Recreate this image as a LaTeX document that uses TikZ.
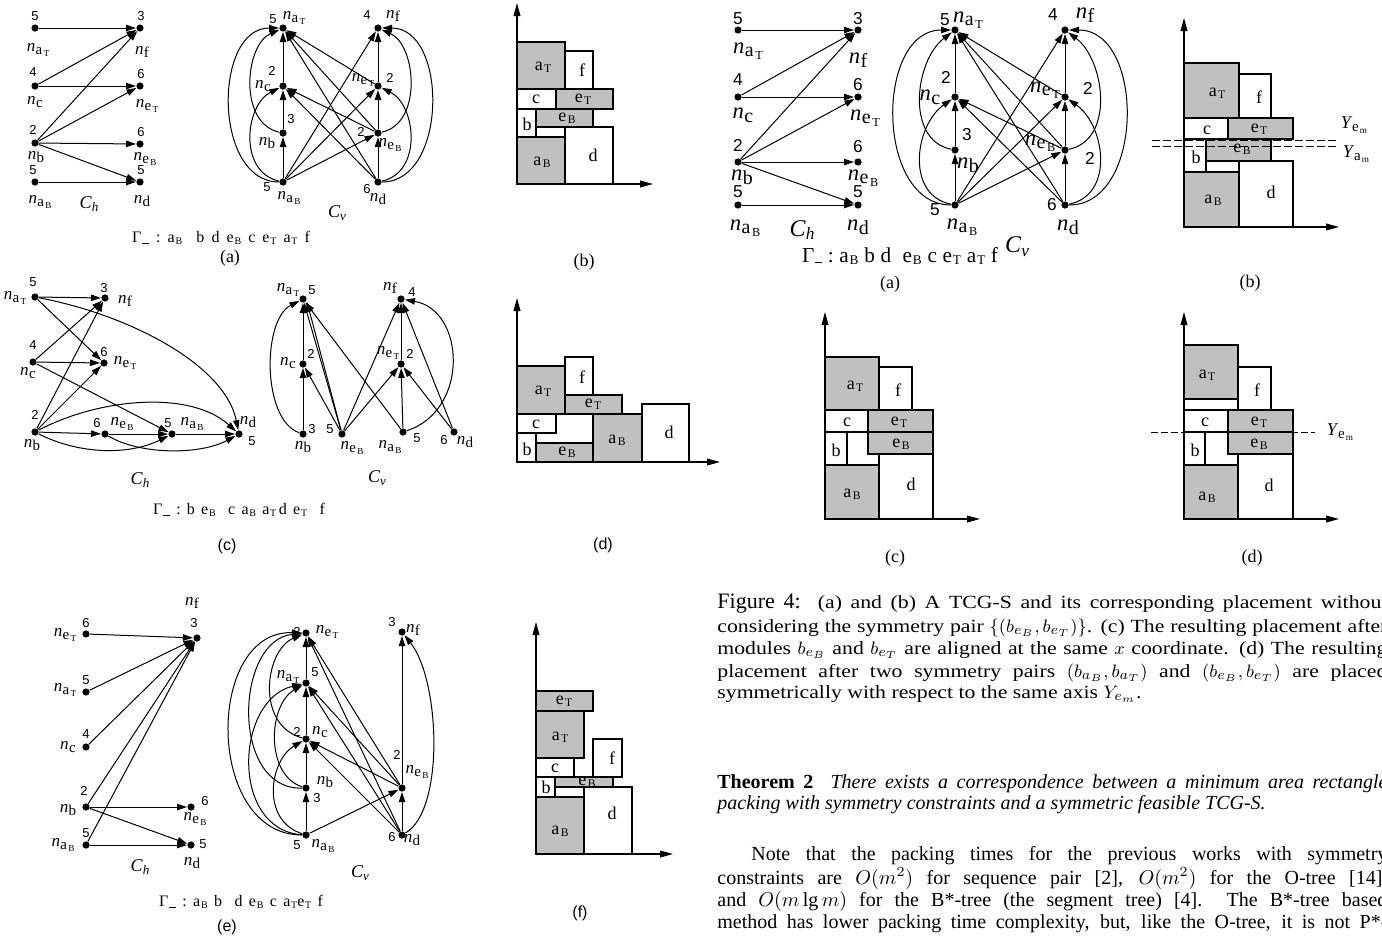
\documentclass[tikz,border=0pt]{standalone}
\usepackage{fontspec}
\setmainfont{Liberation Serif}
\setsansfont{Liberation Sans}
\newfontfamily\capfont[FakeStretch=1.17]{Liberation Serif}
\usetikzlibrary{arrows.meta}
\definecolor{boxgray}{RGB}{192,192,192}
\newcommand\LS{1}
\newcommand\nS[1]{\textit{n}\kern0.2pt\raisebox{-0.35ex}{\fontsize{\fpeval{7.5*\LS}}{\fpeval{8*\LS}}\selectfont #1}}
\newcommand\nA[2]{\textit{n}\kern0.2pt\raisebox{-0.35ex}{\fontsize{\fpeval{7.5*\LS}}{\fpeval{8*\LS}}\selectfont #1\kern0.08em\raisebox{-0.3ex}{\fontsize{\fpeval{4.6*\LS}}{\fpeval{5*\LS}}\selectfont #2}}}
\newcommand\yA[2]{\textit{Y}\kern-0.2pt\raisebox{-0.35ex}{\fontsize{7.5}{8}\selectfont #1\kern0.08em\raisebox{-0.3ex}{\fontsize{4.6}{5}\selectfont #2}}}
\newcommand\bS[2]{#1\kern0.7pt\raisebox{-0.8pt}{\fontsize{5.8}{6}\selectfont #2}}
\newcommand\gS[2]{#1\kern0.4pt\raisebox{-0.25ex}{\fontsize{\fpeval{5*\LS}}{\fpeval{6*\LS}}\selectfont #2}}
\newcommand\Gm{Γ\kern0.3pt\raisebox{-0.4pt}{\rule{3.6pt}{0.45pt}}}
\newcommand\Cs[1]{\textit{C}\raisebox{-0.35ex}{\fontsize{\fpeval{6.5*\LS}}{\fpeval{7*\LS}}\selectfont\textit{#1}}}
\newcommand\vtx[6]{\node[dot] (#1) at (#2) {}; \node[num] (#1-w) at (#4) {#3}; \node[lab] (#1-n) at (#6) {#5};}
\newcommand\pk[6]{\draw[#1] (#2) rectangle (#3); \node[blab] (#4) at (#5) {#6};}
\newcommand\axes[4]{\coordinate (#1-o) at (#2); \coordinate (#1-y) at (#3); \coordinate (#1-x) at (#4); \draw[axisline] (#1-o) -- (#1-y); \draw[axisline] (#1-o) -- (#1-x);}
\tikzset{
 dot/.style={circle,fill=black,inner sep=0pt,minimum size=3.6pt},
 ar/.style={line width=0.5pt,-{Triangle[length=5pt,width=3.2pt]}},
 num/.style={inner sep=0pt,font=\sffamily\fontsize{\fpeval{6.5*\LS}}{\fpeval{7*\LS}}\selectfont},
 lab/.style={inner sep=0pt,font=\fontsize{\fpeval{8.5*\LS}}{\fpeval{9*\LS}}\selectfont},
 wbox/.style={draw=black,line width=0.6pt,fill=white},
 gbox/.style={draw=black,line width=0.6pt,fill=boxgray},
 blab/.style={inner sep=0pt,font=\fontsize{9}{10}\selectfont},
 axisline/.style={line width=0.6pt,-{Triangle[length=6.5pt,width=3.4pt]}},
 gam/.style={inner sep=0pt,font=\fontsize{\fpeval{8*\LS}}{\fpeval{9*\LS}}\selectfont},
 cl/.style={inner sep=0pt,font=\fontsize{\fpeval{9*\LS}}{\fpeval{10*\LS}}\selectfont},
 sublab/.style={inner sep=0pt,font=\fontsize{9}{10}\selectfont},
 sublabsf/.style={inner sep=0pt,font=\sffamily\fontsize{8}{9}\selectfont},
 txt/.style={inner sep=0pt,anchor=base west},
 symline/.style={line width=0.5pt,dash pattern=on 4pt off 1.5pt},
}
\begin{document}
\begin{tikzpicture}[x=0.5pt,y=-0.5pt]
\fill[white] (0,0) rectangle (1382,938);
\useasboundingbox (0,0) rectangle (1382,938);

% ================= Panel left (a) : C_h =================
\vtx{Ah-aT}{35,28}{5}{35,16}{\nA{a}{T}}{38,50}
\vtx{Ah-f}{140,28}{3}{141,16}{\nS{f}}{142,52}
\vtx{Ah-c}{35,86}{4}{33,72}{\nS{c}}{35,102}
\vtx{Ah-eT}{140,86}{6}{141,74}{\nA{e}{T}}{147,106}
\vtx{Ah-b}{35,143}{2}{33,130}{\nS{b}}{36,157}
\vtx{Ah-eB}{140,144}{6}{141,132}{\nA{e}{B}}{145,159}
\vtx{Ah-aB}{35,182}{5}{33,170}{\nA{a}{B}}{40,202}
\vtx{Ah-d}{140,182}{5}{141,170}{\nS{d}}{142,201}
\foreach \s/\t in {aT/f,c/f,c/eT,b/f,b/eT,b/eB,b/d,aB/d} \draw[ar] (Ah-\s) -- (Ah-\t);
\node[cl] (A-Ch) at (89,204) {\Cs{h}};

% ================= Panel left (a) : C_v =================
\vtx{Av-aT}{283,28}{5}{273,19}{\nA{a}{T}}{294,18}
\vtx{Av-f}{378,28}{4}{367,15}{\nS{f}}{393,16}
\vtx{Av-c}{283,86}{2}{272,71}{\nS{c}}{263,86}
\vtx{Av-eT}{378,86}{2}{390,78}{\nA{e}{T}}{363,80}
\vtx{Av-b}{283,133}{3}{291,119}{\nS{b}}{267,143}
\vtx{Av-eB}{378,133}{2}{361,132}{\nA{e}{B}}{390,145}
\vtx{Av-aB}{283,182}{5}{267,187}{\nA{a}{B}}{289,198}
\vtx{Av-d}{378,182}{6}{367,189}{\nS{d}}{378,199}
\foreach \s/\t in {aB/b,b/c,c/aT,d/eB,eB/eT,eT/f,eT/aT,eB/aT,d/aT,eB/c,d/c,aB/f,aB/eT,aB/eB} \draw[ar] (Av-\s) -- (Av-\t);
\draw[ar] (Av-aB) .. controls (213,182) and (213,28) .. (Av-aT);
\draw[ar] (Av-b) .. controls (238,123) and (245,45) .. (Av-aT);
\draw[ar] (Av-aB) .. controls (238,172) and (245,105) .. (Av-c);
\draw[ar] (Av-d) .. controls (448,182) and (448,28) .. (Av-f);
\draw[ar] (Av-eB) .. controls (423,123) and (416,45) .. (Av-f);
\draw[ar] (Av-d) .. controls (423,172) and (416,105) .. (Av-eT);
\node[cl] (A-Cv) at (337,213) {\Cs{v}};
\node[gam] (A-G) at (221,238) {\makebox[89pt][s]{\Gm\ :\ \gS{a}{B}\ \ b\ d\ \gS{e}{B}\ c\ \gS{e}{T}\ \gS{a}{T}\ f}};
\node[sublab] (A-lab) at (230,258) {(a)};

% ================= Panel left (b) =================
\axes{Pb}{517,184}{517,3}{653,184}
\pk{gbox}{517,137}{565,184}{Pb-aB}{542,162}{\bS{a}{B}}
\pk{wbox}{565,127}{613,184}{Pb-d}{593,155}{d}
\pk{wbox}{517,109}{536,137}{Pb-b}{527,124}{b}
\pk{gbox}{536,109}{593,127}{Pb-eB}{567,118}{\bS{e}{B}}
\pk{wbox}{517,89}{556,109}{Pb-c}{536,99}{c}
\pk{gbox}{556,89}{613,109}{Pb-eT}{583,99}{\bS{e}{T}}
\pk{gbox}{517,42}{565,89}{Pb-aT}{543,67}{\bS{a}{T}}
\pk{wbox}{565,51}{593,89}{Pb-f}{582,70}{f}
\node[sublab] (B-lab) at (584,262) {(b)};

% ================= Panel left (c) : C_h =================
\vtx{Ch-aT}{35,297}{5}{33,282}{\nA{a}{T}}{15,298}
\vtx{Ch-f}{105,298}{3}{104,288}{\nS{f}}{125,301}
\vtx{Ch-c}{33,362}{4}{33,345}{\nS{c}}{28,373}
\vtx{Ch-eT}{104,363}{6}{104,352}{\nA{e}{T}}{125,363}
\vtx{Ch-b}{35,432}{2}{35,415}{\nS{b}}{32,445}
\vtx{Ch-eB}{105,434}{6}{97,423}{\nA{e}{B}}{122,424}
\vtx{Ch-aB}{172,434}{5}{168,423}{\nA{a}{B}}{192,424}
\vtx{Ch-d}{239,434}{5}{252,441}{\nS{d}}{248,422}
\foreach \s/\t in {aT/f,aT/eT,c/f,c/eT,c/aB,b/f,b/eT,b/eB,eB/aB,aB/d} \draw[ar] (Ch-\s) -- (Ch-\t);
\draw[ar] (Ch-aT) .. controls (130,315) and (225,365) .. (Ch-d);
\draw[ar] (Ch-b) .. controls (100,398) and (190,390) .. (Ch-d);
\draw[ar] (Ch-b) .. controls (80,455) and (130,455) .. (Ch-aB);
\draw[ar] (Ch-eB) .. controls (140,455) and (200,455) .. (Ch-d);
\node[cl] (C-Ch) at (140,480) {\Cs{h}};

% ================= Panel left (c) : C_v =================
\vtx{Cv-aT}{303,299}{5}{312,290}{\nA{a}{T}}{288,290}
\vtx{Cv-c}{303,364}{2}{311,354}{\nS{c}}{288,363}
\vtx{Cv-b}{303,434}{3}{312,429}{\nS{b}}{303,447}
\vtx{Cv-eB}{342,434}{5}{330,429}{\nA{e}{B}}{352,448}
\vtx{Cv-f}{401,299}{4}{412,292}{\nS{f}}{390,288}
\vtx{Cv-eT}{401,364}{2}{410,354}{\nA{e}{T}}{388,353}
\vtx{Cv-aB}{403,432}{5}{417,438}{\nA{a}{B}}{390,447}
\vtx{Cv-d}{454,432}{6}{444,440}{\nS{d}}{465,442}
\coordinate (Cv-aTr) at (307,302);
\foreach \s/\t in {b/c,c/aT,eB/c,eB/aT,eB/f,eB/eT,aB/aT,aB/eT,eT/f,d/eT,d/f} \draw[ar] (Cv-\s) -- (Cv-\t);
\draw[ar] (Cv-eB) -- (Cv-aTr);
\draw[ar] (Cv-b) .. controls (262,420) and (262,320) .. (Cv-aT);
\draw[ar] (Cv-aB) .. controls (470,410) and (465,310) .. (Cv-f);
\node[cl] (C-Cv) at (377,478) {\Cs{v}};
\node[gam] (C-G) at (239,510) {\makebox[86pt][s]{\Gm\ :\ b\ \gS{e}{B}\ \ c\ \gS{a}{B}\ \gS{a}{T}\,d\ \gS{e}{T}\ \ f}};
\node[sublabsf] (C-lab) at (227,546) {(c)};

% ================= Panel left (d) =================
\axes{Pd}{517,462}{517,298}{720,462}
\pk{wbox}{517,433}{536,462}{Pd-b}{527,449}{b}
\pk{gbox}{536,443}{593,462}{Pd-eB}{567,452}{\bS{e}{B}}
\pk{wbox}{517,414}{556,433}{Pd-c}{536,424}{c}
\pk{gbox}{593,414}{642,462}{Pd-aB}{617,440}{\bS{a}{B}}
\pk{wbox}{642,404}{689,462}{Pd-d}{669,432}{d}
\pk{gbox}{517,366}{565,414}{Pd-aT}{543,391}{\bS{a}{T}}
\pk{gbox}{565,395}{622,414}{Pd-eT}{593,404}{\bS{e}{T}}
\pk{wbox}{565,357}{593,395}{Pd-f}{582,377}{f}
\node[sublabsf] (D-lab) at (603,545) {(d)};

% ================= Panel left (e) : C_h =================
\vtx{Eh-eT}{86,634}{6}{86,623}{\nA{e}{T}}{65,635}
\vtx{Eh-aT}{86,692}{5}{86,680}{\nA{a}{T}}{65,690}
\vtx{Eh-c}{86,747}{4}{86,734}{\nS{c}}{68,747}
\vtx{Eh-b}{86,807}{2}{84,791}{\nS{b}}{68,810}
\vtx{Eh-aB}{86,845}{5}{86,833}{\nA{a}{B}}{63,845}
\vtx{Eh-f}{197,638}{3}{194,623}{\nS{f}}{192,603}
\vtx{Eh-eB}{191,807}{6}{205,801}{\nA{e}{B}}{195,819}
\vtx{Eh-d}{191,845}{5}{203,844}{\nS{d}}{192,863}
\foreach \s/\t in {eT/f,aT/f,c/f,b/f,aB/f,b/eB,b/d,aB/d} \draw[ar] (Eh-\s) -- (Eh-\t);
\node[cl] (E-Ch) at (140,867) {\Cs{h}};

% ================= Panel left (e) : C_v =================
\vtx{Ev-eT}{306,633}{2}{297,632}{\nA{e}{T}}{327,632}
\vtx{Ev-aT}{306,683}{5}{315,672}{\nA{a}{T}}{288,677}
\vtx{Ev-c}{306,739}{2}{297,732}{\nS{c}}{320,732}
\vtx{Ev-b}{306,788}{3}{317,798}{\nS{b}}{325,782}
\vtx{Ev-aB}{306,835}{5}{297,845}{\nA{a}{B}}{323,846}
\vtx{Ev-f}{402,632}{3}{392,622}{\nS{f}}{413,630}
\vtx{Ev-eB}{402,788}{2}{397,755}{\nA{e}{B}}{417,772}
\vtx{Ev-d}{402,835}{6}{392,837}{\nS{d}}{412,840}
\foreach \s/\t in {aT/eT,c/aT,b/c,aB/b,d/eB,eB/f,eB/eT,d/eT,eB/aT,d/aT,eB/c,d/c,aB/eB} \draw[ar] (Ev-\s) -- (Ev-\t);
\draw[ar] (Ev-aB) .. controls (205,835) and (205,630) .. (Ev-eT);
\draw[ar] (Ev-b) .. controls (230,790) and (235,640) .. (Ev-eT);
\draw[ar] (Ev-aB) .. controls (230,830) and (235,700) .. (Ev-aT);
\draw[ar] (Ev-c) .. controls (255,725) and (265,650) .. (Ev-eT);
\draw[ar] (Ev-aB) .. controls (260,820) and (270,760) .. (Ev-c);
\draw[ar] (Ev-b) .. controls (265,775) and (268,705) .. (Ev-aT);
\draw[ar] (Ev-d) .. controls (445,810) and (440,680) .. (Ev-f);
\node[cl] (E-Cv) at (360,873) {\Cs{v}};
\node[gam] (E-G) at (241,902) {\makebox[82pt][s]{\Gm\ :\ \gS{a}{B}\ b\ \ d\ \gS{e}{B}\ c\ \gS{a}{T}\gS{e}{T}\ f}};
\node[sublabsf] (E-lab) at (227,927) {(e)};

% ================= Panel left (f) =================
\axes{Pf}{536,854}{536,622}{673,854}
\pk{gbox}{536,797}{584,854}{Pf-aB}{560,831}{\bS{a}{B}}
\pk{wbox}{584,787}{632,854}{Pf-d}{612,813}{d}
\pk{wbox}{536,777}{555,797}{Pf-b}{546,787}{b}
\pk{gbox}{555,777}{613,787}{Pf-eB}{587,782}{\bS{e}{B}}
\pk{wbox}{536,758}{574,777}{Pf-c}{555,768}{c}
\pk{wbox}{593,739}{622,777}{Pf-f}{612,758}{f}
\pk{gbox}{536,711}{584,758}{Pf-aT}{560,737}{\bS{a}{T}}
\pk{gbox}{536,691}{593,711}{Pf-eT}{564,701}{\bS{e}{T}}
\node[sublabsf] (F-lab) at (580,913) {(f)};

% ================= Panel right (a) =================
\begin{scope}
\renewcommand\LS{1.33}
\vtx{Rh-aT}{738,30}{5}{738,19}{\nA{a}{T}}{748,51}
\vtx{Rh-f}{858,30}{3}{858,19}{\nS{f}}{858,60}
\vtx{Rh-c}{738,97}{4}{738,80}{\nS{c}}{743,115}
\vtx{Rh-eT}{858,97}{6}{858,85}{\nA{e}{T}}{865,118}
\vtx{Rh-b}{738,162}{2}{738,145}{\nS{b}}{742,177}
\vtx{Rh-eB}{858,162}{6}{858,147}{\nA{e}{B}}{863,178}
\vtx{Rh-aB}{738,205}{5}{738,192}{\nA{a}{B}}{745,228}
\vtx{Rh-d}{858,205}{5}{858,192}{\nS{d}}{858,227}
\foreach \s/\t in {aT/f,c/f,c/eT,b/f,b/eT,b/eB,b/d,aB/d} \draw[ar] (Rh-\s) -- (Rh-\t);
\node[cl] (R-Ch) at (802,230) {\Cs{h}};
\vtx{Rv-aT}{955,30}{5}{945,20}{\nA{a}{T}}{968,20}
\vtx{Rv-f}{1065,30}{4}{1053,15}{\nS{f}}{1085,15}
\vtx{Rv-c}{955,97}{2}{946,77}{\nS{c}}{930,97}
\vtx{Rv-eT}{1065,97}{2}{1088,88}{\nA{e}{T}}{1045,90}
\vtx{Rv-b}{955,150}{3}{967,135}{\nS{b}}{968,165}
\vtx{Rv-eB}{1065,150}{2}{1090,158}{\nA{e}{B}}{1040,143}
\vtx{Rv-aB}{955,205}{5}{935,210}{\nA{a}{B}}{962,227}
\vtx{Rv-d}{1065,205}{6}{1052,205}{\nS{d}}{1068,227}
\foreach \s/\t in {aB/b,b/c,c/aT,d/eB,eB/eT,eT/f,eT/aT,eB/aT,d/aT,eB/c,d/c,aB/f,aB/eT,aB/eB} \draw[ar] (Rv-\s) -- (Rv-\t);
\draw[ar] (Rv-aB) .. controls (875,205) and (875,30) .. (Rv-aT);
\draw[ar] (Rv-b) .. controls (905,140) and (915,60) .. (Rv-aT);
\draw[ar] (Rv-aB) .. controls (905,195) and (915,125) .. (Rv-c);
\draw[ar] (Rv-d) .. controls (1145,205) and (1145,30) .. (Rv-f);
\draw[ar] (Rv-eB) .. controls (1115,140) and (1105,60) .. (Rv-f);
\draw[ar] (Rv-d) .. controls (1115,195) and (1105,125) .. (Rv-eT);
\node[cl] (R-Cv) at (1017,247) {\Cs{v}};
\node[gam] (R-G) at (900,256) {\makebox[98pt][s]{\Gm\ :\ \gS{a}{B}\ b\ d\ \ \gS{e}{B}\ c\ \gS{e}{T}\ \gS{a}{T}\ f}};
\end{scope}
\node[sublab] (R-lab) at (890,284) {(a)};

% ================= Panel right (b) =================
\axes{Qb}{1184,227}{1184,18}{1339,227}
\pk{gbox}{1184,172}{1239,227}{Qb-aB}{1213,200}{\bS{a}{B}}
\pk{wbox}{1239,161}{1293,227}{Qb-d}{1271,192}{d}
\pk{wbox}{1184,139}{1206,172}{Qb-b}{1196,157}{b}
\pk{gbox}{1206,139}{1271,161}{Qb-eB}{1242,149}{\bS{e}{B}}
\pk{wbox}{1184,118}{1228,139}{Qb-c}{1207,130}{c}
\pk{gbox}{1228,118}{1293,139}{Qb-eT}{1259,129}{\bS{e}{T}}
\pk{gbox}{1184,63}{1239,118}{Qb-aT}{1217,93}{\bS{a}{T}}
\pk{wbox}{1239,74}{1271,118}{Qb-f}{1259,97}{f}
\coordinate (Qb-e1) at (1152,140); \coordinate (Qb-e2) at (1337,140);
\coordinate (Qb-a1) at (1152,146); \coordinate (Qb-a2) at (1337,146);
\draw[symline] (Qb-e1) -- (Qb-e2);
\draw[symline] (Qb-a1) -- (Qb-a2);
\node[blab] (Qb-Ye) at (1354,125) {\yA{e}{m}};
\node[blab] (Qb-Ya) at (1356,154) {\yA{a}{m}};
\node[sublab] (Qb-lab) at (1250,283) {(b)};

% ================= Panel right (c) =================
\axes{Qc}{825,519}{825,312}{980,519}
\pk{gbox}{825,465}{879,519}{Qc-aB}{852,494}{\bS{a}{B}}
\pk{wbox}{879,454}{933,519}{Qc-d}{911,484}{d}
\pk{wbox}{825,432}{847,465}{Qc-b}{836,450}{b}
\pk{gbox}{868,432}{933,454}{Qc-eB}{901,444}{\bS{e}{B}}
\pk{wbox}{825,410}{868,432}{Qc-c}{847,422}{c}
\pk{gbox}{868,410}{933,432}{Qc-eT}{899,422}{\bS{e}{T}}
\pk{gbox}{825,357}{879,410}{Qc-aT}{855,386}{\bS{a}{T}}
\pk{wbox}{879,367}{912,410}{Qc-f}{898,390}{f}
\node[sublab] (Qc-lab) at (895,558) {(c)};

% ================= Panel right (d) =================
\axes{Qd}{1184,519}{1184,312}{1339,519}
\pk{gbox}{1184,465}{1238,519}{Qd-aB}{1207,497}{\bS{a}{B}}
\pk{wbox}{1238,454}{1293,519}{Qd-d}{1269,485}{d}
\pk{wbox}{1184,432}{1205,465}{Qd-b}{1195,450}{b}
\pk{gbox}{1228,432}{1293,454}{Qd-eB}{1259,444}{\bS{e}{B}}
\pk{wbox}{1184,410}{1228,432}{Qd-c}{1205,422}{c}
\pk{gbox}{1228,410}{1293,432}{Qd-eT}{1259,422}{\bS{e}{T}}
\draw[wbox] (1184,399) rectangle (1238,410);
\pk{gbox}{1184,345}{1238,399}{Qd-aT}{1207,375}{\bS{a}{T}}
\pk{wbox}{1238,367}{1271,410}{Qd-f}{1257,390}{f}
\coordinate (Qd-s1) at (1151,432); \coordinate (Qd-s2) at (1315,432);
\draw[symline,dash pattern=on 3.5pt off 1.5pt] (Qd-s1) -- (Qd-s2);
\node[blab] (Qd-Ye) at (1340,432) {\yA{e}{m}};
\node[sublab] (Qd-lab) at (1252,558) {(d)};

% ================= Caption and text =================
\node[txt] (cap1) at (717,608) {\makebox[335pt][s]{\fontsize{11}{13}\selectfont Figure 4:\capfont\fontsize{9.3}{11}\selectfont\ \ (a) and (b) A TCG-S and its corresponding placement without}};
\node[txt] (cap2) at (717,632) {\makebox[335pt][s]{\capfont\fontsize{9.3}{11}\selectfont considering the symmetry pair $\{(b_{e_B},b_{e_T})\}$. (c) The resulting placement after}};
\node[txt] (cap3) at (717,654) {\makebox[335pt][s]{\capfont\fontsize{9.3}{11}\selectfont modules $b_{e_B}$ and $b_{e_T}$ are aligned at the same $x$ coordinate. (d) The resulting}};
\node[txt] (cap4) at (717,677) {\makebox[335pt][s]{\capfont\fontsize{9.3}{11}\selectfont placement after two symmetry pairs $(b_{a_B},b_{a_T})$ and $(b_{e_B},b_{e_T})$ are placed}};
\node[txt] (cap5) at (717,698) {\capfont\fontsize{9.3}{11}\selectfont symmetrically with respect to the same axis $Y_{e_m}$.};
\node[txt] (thm1) at (717,788) {\makebox[335pt][s]{\fontsize{10}{11}\selectfont\textbf{Theorem 2}\ \ \textit{There exists a correspondence between a minimum area rectangle}}};
\node[txt] (thm2) at (717,809) {\fontsize{10}{11}\selectfont\textit{packing with symmetry constraints and a symmetric feasible TCG-S.}};
\node[txt] (nt1) at (717,860) {\makebox[335pt][s]{\fontsize{10}{11}\selectfont\hspace*{17pt}Note that the packing times for the previous works with symmetry}};
\node[txt] (nt2) at (717,884) {\makebox[335pt][s]{\fontsize{10}{11}\selectfont constraints are $O(m^2)$ for sequence pair [2], $O(m^2)$ for the O-tree [14],}};
\node[txt] (nt3) at (717,906) {\makebox[335pt][s]{\fontsize{10}{11}\selectfont and $O(m\lg m)$ for the B*-tree (the segment tree) [4].\ \ The B*-tree based}};
\node[txt] (nt4) at (717,928) {\makebox[335pt][s]{\fontsize{10}{11}\selectfont method has lower packing time complexity, but, like the O-tree, it is not P*-}};
\end{tikzpicture}
\end{document}
